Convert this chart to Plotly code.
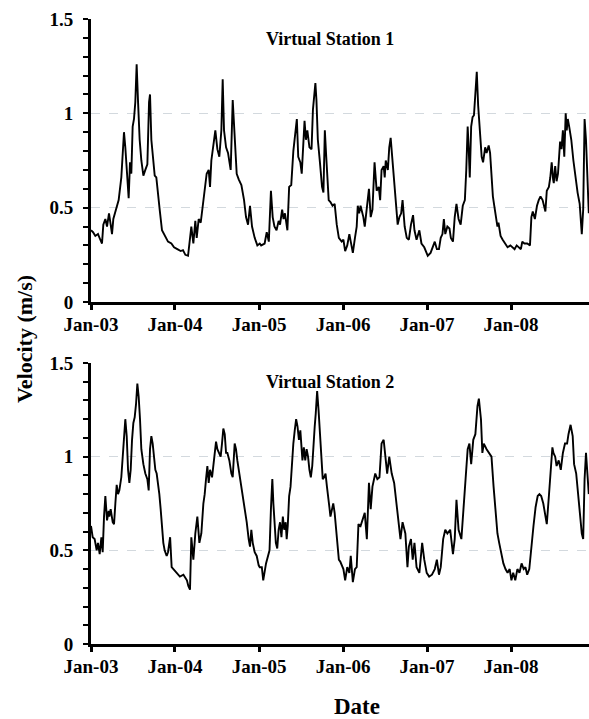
import pandas as pd
import plotly.graph_objects as go

# ---------------- data (months since Jan 2003, velocity in m/s) ----------------
s1_month = [
    0, 0.29, 0.62, 1.0, 1.33, 1.57, 1.76, 2.05, 2.29, 2.57,
    2.81, 3.0, 3.19, 3.52, 3.95, 4.33, 4.52, 4.71, 4.9, 5.19,
    5.38, 5.57, 5.76, 5.95, 6.14, 6.33, 6.52, 6.71, 6.95, 7.19,
    7.48, 7.76, 8.05, 8.29, 8.43, 8.62, 8.86, 9.1, 9.33, 9.57,
    9.81, 10.14, 10.52, 11.0, 11.48, 11.86, 12.33, 12.81, 13.14, 13.48,
    13.86, 14.14, 14.33, 14.62, 14.9, 15.1, 15.38, 15.67, 15.95, 16.24,
    16.52, 16.81, 17.0, 17.19, 17.48, 17.76, 18.05, 18.33, 18.62, 18.81,
    19.0, 19.29, 19.57, 19.95, 20.24, 20.52, 20.81, 21.1, 21.48, 21.86,
    22.14, 22.43, 22.71, 23.0, 23.38, 23.76, 24.1, 24.3, 24.8, 25.1,
    25.4, 25.7, 25.95, 26.2, 26.5, 26.8, 27.0, 27.3, 27.5, 27.7,
    27.9, 28.05, 28.3, 28.6, 28.9, 29.2, 29.4, 29.6, 29.9, 30.1,
    30.3, 30.5, 30.7, 30.9, 31.2, 31.5, 31.7, 31.9, 32.05, 32.2,
    32.4, 32.7, 33.0, 33.2, 33.4, 33.6, 33.8, 33.95, 34.2, 34.5,
    34.8, 35.1, 35.4, 35.8, 36.05, 36.3, 36.6, 36.9, 37.2, 37.4,
    37.7, 37.95, 38.1, 38.3, 38.5, 38.7, 38.9, 39.1, 39.3, 39.5,
    39.7, 39.95, 40.2, 40.5, 40.8, 41.1, 41.3, 41.5, 41.8, 41.95,
    42.1, 42.4, 42.6, 42.8, 43.0, 43.2, 43.5, 43.8, 44.05, 44.3,
    44.5, 44.8, 45.1, 45.4, 45.7, 46.0, 46.2, 46.5, 46.9, 47.2,
    47.6, 48.0, 48.1, 48.5, 48.9, 49.1, 49.4, 49.7, 49.95, 50.2,
    50.4, 50.6, 50.9, 51.2, 51.4, 51.7, 51.95, 52.2, 52.5, 52.8,
    53.1, 53.4, 53.6, 53.8, 53.95, 54.1, 54.3, 54.5, 54.7, 54.9,
    55.1, 55.3, 55.5, 55.8, 56.0, 56.1, 56.3, 56.5, 56.8, 57.0,
    57.2, 57.4, 57.6, 57.9, 58.05, 58.2, 58.5, 58.8, 59.1, 59.5,
    59.9, 60.2, 60.5, 60.8, 61.1, 61.4, 61.6, 61.9, 62.3, 62.7,
    62.9, 63.1, 63.4, 63.7, 63.95, 64.2, 64.5, 64.9, 65.1, 65.4,
    65.6, 65.8, 66.0, 66.1, 66.3, 66.5, 66.7, 67.0, 67.2, 67.4,
    67.6, 67.8, 67.95, 68.1, 68.3, 68.6, 68.9, 69.2, 69.5, 69.8,
    69.95, 70.1, 70.3, 70.5, 70.7, 70.9, 71.1,
]
s1_vel = [
    .38, .37, .35, .36, .33, .31, .41, .44, .40, .47,
    .41, .36, .44, .48, .54, .66, .77, .90, .82, .65,
    .55, .74, .68, .93, .97, 1.06, 1.26, 1.07, .86, .75,
    .67, .70, .73, 1.06, 1.10, .86, .77, .67, .66, .59,
    .49, .38, .35, .32, .31, .29, .28, .27, .275, .25,
    .245, .35, .40, .31, .43, .34, .44, .42, .50, .61,
    .68, .70, .61, .75, .82, .91, .81, .77, .91, 1.18,
    .91, .82, .79, .70, 1.07, .84, .68, .65, .62, .54,
    .45, .41, .51, .40, .34, .30, .31, .30, .31, .37,
    .32, .59, .45, .40, .38, .43, .41, .49, .44, .47,
    .41, .38, .61, .62, .80, .91, .97, .77, .74, .68,
    .82, .96, .86, .91, .82, .81, 1.02, 1.09, 1.16, 1.07,
    .86, .74, .61, .58, .91, .77, .65, .54, .53, .51,
    .52, .41, .34, .32, .33, .27, .30, .36, .30, .26,
    .34, .40, .51, .47, .51, .48, .45, .40, .47, .52,
    .60, .45, .49, .74, .59, .61, .54, .70, .72, .66,
    .75, .70, .82, .87, .77, .66, .56, .41, .45, .47,
    .54, .40, .34, .33, .41, .46, .38, .33, .38, .31,
    .29, .25, .245, .26, .30, .32, .28, .28, .34, .36,
    .44, .36, .40, .39, .34, .32, .45, .52, .44, .41,
    .51, .54, .70, .93, .81, .66, .93, .98, .99, 1.13,
    1.22, 1.04, .91, .77, .74, .77, .82, .79, .83, .79,
    .66, .56, .51, .43, .40, .42, .35, .33, .31, .29,
    .30, .29, .28, .30, .29, .28, .32, .31, .31, .30,
    .45, .48, .44, .51, .54, .56, .54, .48, .59, .61,
    .66, .74, .65, .63, .72, .64, .68, .85, .81, .91,
    .77, 1.00, .91, .97, .93, .86, .75, .65, .58, .52,
    .41, .36, .49, .97, .86, .68, .47,
]

s2_month = [
    0, 0.24, 0.52, 0.81, 1.0, 1.24, 1.48, 1.67, 1.86, 2.05,
    2.29, 2.52, 2.62, 2.81, 3.1, 3.29, 3.48, 3.67, 3.86, 4.05,
    4.33, 4.52, 4.71, 4.9, 5.1, 5.29, 5.48, 5.67, 5.86, 6.05,
    6.24, 6.43, 6.62, 6.81, 7.0, 7.19, 7.48, 7.76, 8.05, 8.24,
    8.43, 8.62, 8.81, 9.0, 9.19, 9.38, 9.57, 9.76, 9.95, 10.14,
    10.33, 10.52, 10.81, 11.0, 11.3, 11.52, 11.76, 12.2, 12.7, 13.2,
    13.7, 13.9, 14.14, 14.33, 14.62, 14.9, 15.19, 15.48, 15.76, 16.05,
    16.24, 16.43, 16.62, 16.81, 17.0, 17.29, 17.57, 17.86, 18.05, 18.24,
    18.52, 18.71, 18.9, 19.1, 19.29, 19.48, 19.76, 20.05, 20.24, 20.52,
    20.71, 20.9, 21.1, 21.38, 21.67, 21.95, 22.24, 22.52, 22.71, 22.9,
    23.1, 23.38, 23.67, 23.95, 24.1, 24.4, 24.6, 25.0, 25.3, 25.5,
    25.7, 25.9, 26.05, 26.2, 26.4, 26.6, 26.8, 27.0, 27.2, 27.4,
    27.6, 27.8, 27.95, 28.1, 28.3, 28.5, 28.7, 28.9, 29.1, 29.3,
    29.5, 29.7, 29.9, 30.05, 30.2, 30.4, 30.6, 30.8, 31.0, 31.2,
    31.4, 31.6, 31.75, 31.95, 32.1, 32.3, 32.5, 32.7, 32.9, 33.1,
    33.3, 33.5, 33.7, 33.9, 34.05, 34.2, 34.4, 34.6, 34.8, 35.0,
    35.2, 35.4, 35.6, 36.05, 36.3, 36.6, 36.9, 37.1, 37.4, 37.7,
    37.95, 38.2, 38.5, 38.8, 39.1, 39.4, 39.7, 39.95, 40.2, 40.6,
    40.9, 41.2, 41.5, 41.8, 42.0, 42.3, 42.6, 42.95, 43.3, 43.6,
    43.9, 44.2, 44.5, 44.9, 45.2, 45.4, 45.7, 45.95, 46.2, 46.5,
    46.9, 47.3, 47.6, 47.95, 48.3, 48.7, 49.1, 49.4, 49.7, 49.95,
    50.3, 50.6, 50.9, 51.3, 51.7, 51.95, 52.2, 52.5, 52.9, 53.2,
    53.5, 53.8, 54.05, 54.3, 54.6, 54.9, 55.2, 55.4, 55.7, 55.9,
    56.1, 56.5, 56.9, 57.2, 57.5, 57.8, 58.05, 58.3, 58.6, 58.9,
    59.2, 59.5, 59.8, 60.05, 60.3, 60.6, 60.9, 61.2, 61.5, 61.8,
    62.05, 62.3, 62.6, 62.9, 63.2, 63.5, 63.8, 64.05, 64.3, 64.6,
    64.9, 65.1, 65.4, 65.7, 65.9, 66.05, 66.3, 66.5, 66.8, 67.1,
    67.4, 67.7, 68.0, 68.2, 68.5, 68.8, 69.0, 69.3, 69.6, 69.9,
    70.1, 70.3, 70.5, 70.7, 70.9, 71.1,
]
s2_vel = [
    .63, .57, .56, .50, .54, .48, .57, .49, .68, .79,
    .66, .71, .68, .72, .65, .64, .75, .85, .80, .82,
    .89, .98, 1.11, 1.20, 1.11, .93, .86, .93, 1.09, 1.18,
    1.21, 1.28, 1.39, 1.32, 1.20, 1.04, .96, .91, .88, .82,
    1.04, 1.11, 1.07, 1.00, .93, .91, .86, .80, .72, .61,
    .54, .50, .47, .49, .57, .41, .40, .38, .36, .37,
    .34, .31, .29, .57, .45, .59, .68, .54, .59, .75,
    .80, .88, .95, .86, .93, .89, 1.00, 1.08, 1.04, 1.02,
    1.00, 1.07, 1.15, 1.12, 1.02, 1.02, .98, .91, .89, 1.07,
    1.04, .98, .93, .86, .80, .72, .65, .56, .52, .61,
    .54, .49, .47, .42, .41, .41, .34, .43, .47, .50,
    .72, .88, .75, .63, .54, .51, .61, .65, .57, .68,
    .61, .65, .56, .63, .79, .84, .98, 1.07, 1.14, 1.20,
    1.16, 1.09, 1.14, 1.07, .98, 1.05, .98, 1.04, 1.00, .93,
    .89, .95, 1.07, 1.16, 1.23, 1.35, 1.25, 1.11, .96, .88,
    .89, .91, .84, .79, .73, .68, .72, .75, .70, .61,
    .52, .45, .44, .40, .34, .41, .38, .47, .33, .40,
    .41, .64, .63, .66, .70, .56, .86, .72, .84, .91,
    .88, .89, 1.07, 1.09, 1.00, .91, 1.00, .91, .86, .77,
    .66, .56, .65, .59, .41, .52, .56, .45, .54, .41,
    .38, .54, .45, .38, .36, .37, .40, .45, .37, .41,
    .56, .61, .59, .61, .48, .56, .77, .61, .56, .75,
    .88, 1.04, 1.07, .96, 1.09, 1.12, 1.27, 1.31, 1.20, 1.02,
    1.07, 1.04, 1.02, 1.00, .84, .70, .59, .54, .48, .43,
    .40, .38, .40, .34, .38, .34, .40, .38, .43, .40,
    .41, .37, .40, .54, .63, .73, .79, .80, .79, .75,
    .68, .64, .79, .95, 1.05, 1.02, 1.00, .95, .98, .93,
    1.02, 1.07, 1.07, 1.12, 1.17, 1.11, .96, .91, .80, .68,
    .59, .56, .88, 1.02, .91, .80,
]

assert len(s1_month) == len(s1_vel)
assert len(s2_month) == len(s2_vel)

titles = ["Virtual Station 1", "Virtual Station 2"]
y_title = "Velocity (m/s)"
x_title = "Date"

base = pd.Timestamp("2003-01-01")


def to_dates(months):
    return [base + pd.Timedelta(days=m * 30.4375) for m in months]


FONT = "Liberation Serif, Times New Roman, serif"

fig = go.Figure()
fig.add_trace(go.Scatter(x=to_dates(s1_month), y=s1_vel, mode="lines",
                         line=dict(color="black", width=1.9),
                         xaxis="x", yaxis="y", showlegend=False))
fig.add_trace(go.Scatter(x=to_dates(s2_month), y=s2_vel, mode="lines",
                         line=dict(color="black", width=1.9),
                         xaxis="x2", yaxis="y2", showlegend=False))

xcommon = dict(
    type="date", range=["2003-01-01", "2008-12-05"],
    tick0="2003-01-01", dtick="M12", tickformat="%b-%y",
    ticks="outside", ticklen=5, tickwidth=3, tickcolor="black",
    showline=True, linewidth=3, linecolor="black",
    showgrid=False, zeroline=False, ticklabelstandoff=-2,
    tickfont=dict(family=FONT, size=19, color="black", weight="bold"),
)
ycommon = dict(
    range=[0, 1.5], dtick=0.5, tick0=0,
    ticks="outside", ticklen=5, tickwidth=2, tickcolor="black",
    minor=dict(dtick=0.1, ticks="outside", ticklen=5, tickwidth=2,
               tickcolor="black", showgrid=False),
    showline=True, linewidth=3, linecolor="black",
    showgrid=True, gridcolor="#d3d9de", griddash="dash", gridwidth=1,
    zeroline=False, ticklabelstandoff=6,
    tickfont=dict(family=FONT, size=19, color="black", weight="bold"),
)

top0 = (644 - 302) / 625
bot1 = (644 - 363) / 625

fig.update_layout(
    width=589, height=719,
    margin=dict(l=91, r=0, t=19, b=75, autoexpand=False),
    paper_bgcolor="white", plot_bgcolor="white",
    xaxis=dict(domain=[0, 1], anchor="y", **xcommon),
    yaxis=dict(domain=[top0, 1], anchor="x", **ycommon),
    xaxis2=dict(domain=[0, 1], anchor="y2", **xcommon),
    yaxis2=dict(domain=[0, bot1], anchor="x2", **ycommon),
    annotations=[
        dict(text=titles[0], xref="paper", yref="paper", x=0.48, y=(644 - 39) / 625,
             xanchor="center", yanchor="middle", showarrow=False,
             font=dict(family=FONT, size=18, color="black", weight="bold")),
        dict(text=titles[1], xref="paper", yref="paper", x=0.48, y=(644 - 382) / 625,
             xanchor="center", yanchor="middle", showarrow=False,
             font=dict(family=FONT, size=18, color="black", weight="bold")),
        dict(text=y_title, xref="paper", yref="paper", x=(24 - 91) / 498, y=(644 - 339) / 625,
             xanchor="center", yanchor="middle", showarrow=False, textangle=-90,
             font=dict(family=FONT, size=22, color="black", weight="bold")),
        dict(text=x_title, xref="paper", yref="paper", x=(357 - 91) / 498, y=(644 - 706) / 625,
             xanchor="center", yanchor="middle", showarrow=False,
             font=dict(family=FONT, size=23, color="black", weight="bold")),
    ],
)

fig.write_html(
    "out.html",
    config={"displayModeBar": False},
    post_script="document.body.style.margin='0';document.body.style.overflow='hidden';",
)
